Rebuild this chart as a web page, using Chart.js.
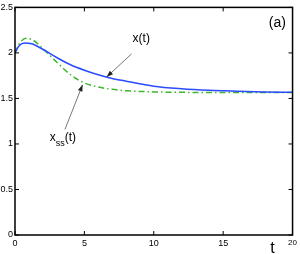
<!DOCTYPE html>
<html>
<head>
<meta charset="utf-8">
<script src="https://cdn.jsdelivr.net/npm/chart.js@4.4.0/dist/chart.umd.min.js"></script>
<style>
  html, body { margin: 0; padding: 0; background: #fff; }
  #wrap { width: 300px; height: 254px; }
</style>
</head>
<body>
<div id="wrap"><canvas id="c" width="300" height="254"></canvas></div>
<script>
// DATA
const tX = [0, 0.3, 0.7, 1.2, 2, 3, 4, 5, 6, 7, 8, 10, 12, 14, 16, 18, 20];
const xVals = [2.0, 2.08, 2.11, 2.10, 2.04, 1.95, 1.87, 1.81, 1.76, 1.72, 1.69, 1.635, 1.607, 1.59, 1.58, 1.572, 1.568];

const tSS = [0, 0.3, 0.8, 1.3, 2, 3, 4, 5, 6, 7, 8, 10, 12, 15, 20];
const xssVals = [2.0, 2.1, 2.16, 2.14, 2.05, 1.90, 1.76, 1.67, 1.625, 1.60, 1.585, 1.572, 1.567, 1.565, 1.565];

const xTicks = [0, 5, 10, 15, 20];
const yTicks = [0, 0.5, 1, 1.5, 2, 2.5];

const toPoints = (ts, vs) => ts.map((t, i) => ({ x: t, y: vs[i] }));

// ANNOTATIONS (data units)
const labelX = { text: "x(t)", t: 9.1, y: 2.12, headT: 6.6, headY: 1.735, tailT: 8.4, tailY: 1.99 };
const labelSS = { t: 2.5, y: 1.03, headT: 4.87, headY: 1.65, tailT: 3.6, tailY: 1.16 };

function arrow(ctx, x1, y1, x2, y2) {
    const a = Math.atan2(y2 - y1, x2 - x1);
    ctx.beginPath();
    ctx.moveTo(x1, y1);
    ctx.lineTo(x2, y2);
    ctx.stroke();
    ctx.beginPath();
    ctx.moveTo(x2, y2);
    ctx.lineTo(x2 - 7 * Math.cos(a - 0.35), y2 - 7 * Math.sin(a - 0.35));
    ctx.lineTo(x2 - 7 * Math.cos(a + 0.35), y2 - 7 * Math.sin(a + 0.35));
    ctx.closePath();
    ctx.fill();
}

const framePlugin = {
    id: "frame",
    afterDraw(chart) {
        const ctx = chart.ctx;
        const a = chart.chartArea;
        const xs = chart.scales.x, ys = chart.scales.y;
        ctx.save();
        ctx.strokeStyle = "#000";
        ctx.lineWidth = 1.5;
        ctx.strokeRect(a.left, a.top, a.right - a.left, a.bottom - a.top);

        // inward ticks on all sides
        ctx.lineWidth = 1;
        ctx.beginPath();
        xTicks.forEach(v => {
            const p = xs.getPixelForValue(v);
            ctx.moveTo(p, a.bottom); ctx.lineTo(p, a.bottom - 4);
            ctx.moveTo(p, a.top); ctx.lineTo(p, a.top + 4);
        });
        yTicks.forEach(v => {
            const p = ys.getPixelForValue(v);
            ctx.moveTo(a.left, p); ctx.lineTo(a.left + 4, p);
            ctx.moveTo(a.right, p); ctx.lineTo(a.right - 4, p);
        });
        ctx.stroke();

        // arrows
        ctx.strokeStyle = "#555";
        ctx.fillStyle = "#222";
        ctx.lineWidth = 0.8;
        arrow(ctx, xs.getPixelForValue(labelX.tailT), ys.getPixelForValue(labelX.tailY),
              xs.getPixelForValue(labelX.headT), ys.getPixelForValue(labelX.headY));
        arrow(ctx, xs.getPixelForValue(labelSS.tailT), ys.getPixelForValue(labelSS.tailY),
              xs.getPixelForValue(labelSS.headT), ys.getPixelForValue(labelSS.headY));

        // texts
        ctx.fillStyle = "#000";
        ctx.textBaseline = "alphabetic";
        ctx.font = "12px 'Liberation Sans', Arial, sans-serif";
        ctx.textAlign = "center";
        ctx.fillText(labelX.text, xs.getPixelForValue(labelX.t), ys.getPixelForValue(labelX.y));

        ctx.textAlign = "left";
        let px = xs.getPixelForValue(labelSS.t), py = ys.getPixelForValue(labelSS.y);
        ctx.fillText("x", px, py);
        px += ctx.measureText("x").width;
        ctx.font = "9px 'Liberation Sans', Arial, sans-serif";
        ctx.fillText("ss", px, py + 5);
        px += ctx.measureText("ss").width;
        ctx.font = "12px 'Liberation Sans', Arial, sans-serif";
        ctx.fillText("(t)", px, py);

        ctx.font = "14px 'Liberation Sans', Arial, sans-serif";
        ctx.textAlign = "center";
        ctx.fillText("(a)", xs.getPixelForValue(18.9), ys.getPixelForValue(2.28));

        ctx.font = "16px 'Liberation Sans', Arial, sans-serif";
        ctx.fillText("t", a.right - 20, a.bottom + 18);
        ctx.restore();
    }
};

const ctx = document.getElementById("c").getContext("2d");

new Chart(ctx, {
    type: "line",
    data: {
        datasets: [
            {
                label: "x(t)",
                data: toPoints(tX, xVals),
                borderColor: "#2a4bff",
                borderWidth: 1.5,
                pointRadius: 0,
                fill: false,
                cubicInterpolationMode: "monotone"
            },
            {
                label: "xss(t)",
                data: toPoints(tSS, xssVals),
                borderColor: "#3cb82a",
                borderWidth: 1.5,
                borderDash: [6, 3, 1.5, 3],
                pointRadius: 0,
                fill: false,
                cubicInterpolationMode: "monotone"
            }
        ]
    },
    options: {
        responsive: false,
        animation: false,
        layout: { padding: { top: 3, right: 6, left: 0, bottom: 0 } },
        plugins: { legend: { display: false }, tooltip: { enabled: false } },
        scales: {
            x: {
                type: "linear",
                min: 0, max: 20,
                grid: { display: false, drawTicks: false },
                border: { display: false },
                afterBuildTicks: s => { s.ticks = xTicks.map(v => ({ value: v })); },
                afterFit: s => { s.height = 19; },
                ticks: {
                    color: "#000",
                    padding: 3,
                    maxRotation: 0,
                    callback: v => String(v),
                    font: c => ({ family: "'Liberation Sans', Arial, sans-serif", size: c.tick && c.tick.value === 20 ? 8 : 9 })
                }
            },
            y: {
                min: 0, max: 2.5,
                grid: { display: false, drawTicks: false },
                border: { display: false },
                afterBuildTicks: s => { s.ticks = yTicks.map(v => ({ value: v })); },
                afterFit: s => { s.width = 15; },
                ticks: {
                    color: "#000",
                    padding: 2,
                    callback: v => String(v),
                    font: { family: "'Liberation Sans', Arial, sans-serif", size: 9 }
                }
            }
        }
    },
    plugins: [framePlugin]
});
</script>
</body>
</html>
